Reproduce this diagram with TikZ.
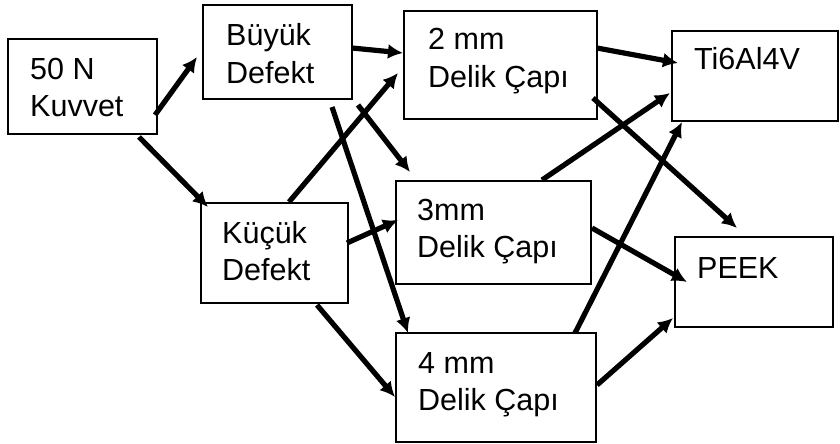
\documentclass[tikz,border=0pt]{standalone}
\usepackage{fontspec}
\setmainfont{Liberation Sans}
\usetikzlibrary{arrows.meta}
\tikzset{
  box/.style={draw=black, line width=1.6pt, inner sep=0pt, outer sep=0pt, anchor=north west, fill=white},
  lbl/.style={anchor=base west, inner sep=0pt, font=\fontsize{30.5}{37}\selectfont},
  arr/.style={line width=5.2pt, -{Latex[length=15pt,width=15pt]}}
}
\newcommand{\twol}[2]{\begin{tabular}[t]{@{}l@{}}#1\\#2\end{tabular}}
\begin{document}
\begin{tikzpicture}[x=1pt,y=-1pt]
\useasboundingbox (0,0) rectangle (840,444);
% boxes
\node[box, minimum width=149pt, minimum height=95pt] (A) at (8,39) {};
\node[box, minimum width=149pt, minimum height=94pt] (B) at (203,5) {};
\node[box, minimum width=147pt, minimum height=100pt] (K) at (201,203) {};
\node[box, minimum width=193pt, minimum height=108pt] (D2) at (404,11) {};
\node[box, minimum width=195pt, minimum height=103pt] (D3) at (396,181) {};
\node[box, minimum width=200pt, minimum height=109pt] (D4) at (396,333) {};
\node[box, minimum width=166pt, minimum height=90pt] (T) at (672,31) {};
\node[box, minimum width=158pt, minimum height=90pt] (P) at (675,237) {};
% labels
\node[lbl] (At) at ([shift={(22,40)}]A.north west) {\twol{50 N}{Kuvvet}};
\node[lbl] (Bt) at ([shift={(23,41)}]B.north west) {\twol{Büyük}{Defekt}};
\node[lbl] (Kt) at ([shift={(21,40)}]K.north west) {\twol{Küçük}{Defekt}};
\node[lbl] (D2t) at ([shift={(24,39)}]D2.north west) {\twol{2 mm}{Delik Çapı}};
\node[lbl] (D3t) at ([shift={(21,39.5)}]D3.north west) {\twol{3mm}{Delik Çapı}};
\node[lbl] (D4t) at ([shift={(22,40)}]D4.north west) {\twol{4 mm}{Delik Çapı}};
\node[lbl] (Tt) at ([shift={(22,39)}]T.north west) {Ti6Al4V};
\node[lbl] (Pt) at ([shift={(22,41)}]P.north west) {PEEK};
% arrows
\draw[arr] ([shift={(-2,76)}]A.north east) -- ([shift={(-6,52)}]B.north west);
\draw[arr] ([shift={(-18,3)}]A.south east) -- ([shift={(7,4)}]K.north west);
\draw[arr] ([shift={(0,43)}]B.north east) -- ([shift={(-1,42)}]D2.north west);
\draw[arr] ([shift={(88,-1)}]K.north west) -- ([shift={(-6,62)}]D2.north west);
\draw[arr] ([shift={(-20,8)}]B.south east) -- ([shift={(12,0)}]D4.north west);
\draw[arr] ([shift={(6,6)}]B.south east) -- ([shift={(14,-9)}]D3.north west);
\draw[arr] ([shift={(-1,40)}]K.north east) -- ([shift={(2,39)}]D3.north west);
\draw[arr] ([shift={(-31,2)}]K.south east) -- ([shift={(-1,64)}]D4.north west);
\draw[arr] ([shift={(0,37)}]D2.north east) -- ([shift={(6,32)}]T.north west);
\draw[arr] ([shift={(-4,-21)}]D2.south east) -- ([shift={(62,-9)}]P.north west);
\draw[arr] ([shift={(146,-1)}]D3.north west) -- ([shift={(-2,62)}]T.north west);
\draw[arr] ([shift={(-21,0)}]D4.north east) -- ([shift={(10,1)}]T.south west);
\draw[arr] ([shift={(1,47)}]D3.north east) -- ([shift={(12,45)}]P.north west);
\draw[arr] ([shift={(1,52)}]D4.north east) -- ([shift={(-2,-9)}]P.south west);
\end{tikzpicture}
\end{document}
